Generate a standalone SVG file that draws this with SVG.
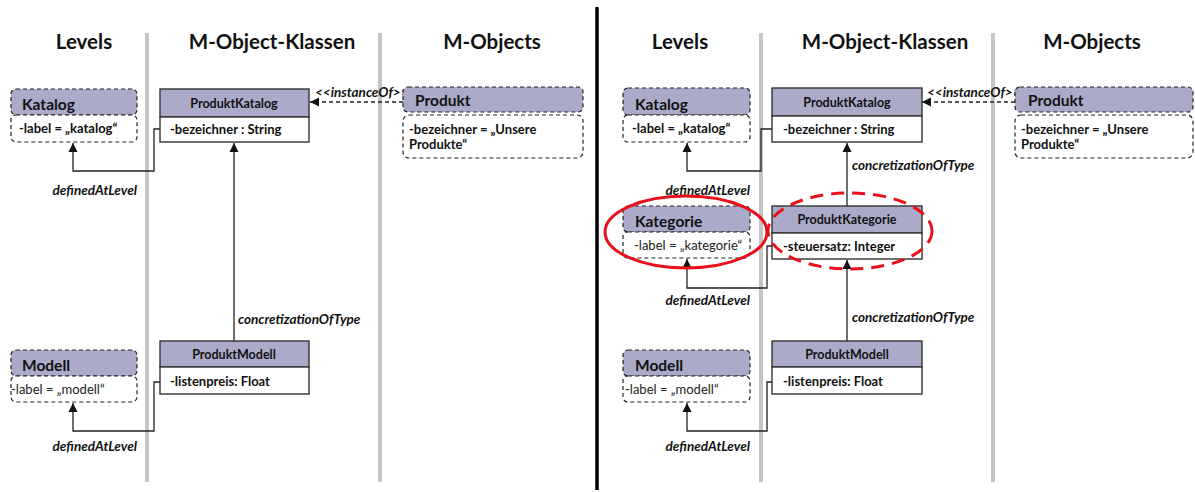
<svg xmlns="http://www.w3.org/2000/svg" width="1195" height="492" viewBox="0 0 1195 492">
<style>
.h{font-family:Lato,"Liberation Sans",sans-serif;font-weight:bold;font-size:20.5px;fill:#111;text-anchor:middle}
.sep{stroke:#C9C4C4;stroke-width:4}
.lh{fill:#ABABC9;stroke:#222;stroke-width:1.2;stroke-dasharray:4 3}
.lb{fill:#fff;stroke:#222;stroke-width:1.2;stroke-dasharray:4 3}
.ch{fill:#ABABC9;stroke:#333;stroke-width:1.4}
.cb{fill:#fff;stroke:#333;stroke-width:1.4}
.t1{font-family:Lato,"Liberation Sans",sans-serif;font-weight:bold;font-size:15.5px;fill:#111}
.t2{font-family:Lato,"Liberation Sans",sans-serif;font-weight:bold;font-size:13px;fill:#111}
.t3{font-family:Lato,"Liberation Sans",sans-serif;font-size:13px;fill:#222}
.tc{font-family:Lato,"Liberation Sans",sans-serif;font-weight:bold;font-size:12.5px;fill:#111;text-anchor:middle}
.lab{font-family:Lato,"Liberation Sans",sans-serif;font-weight:bold;font-style:italic;font-size:13.5px;fill:#111}
.ln{fill:none;stroke:#222;stroke-width:1.3}
.dl{fill:none;stroke:#222;stroke-width:1.3;stroke-dasharray:4 3}
</style>
<defs>
<marker id="ah" markerWidth="10" markerHeight="10" refX="9" refY="5" orient="auto" markerUnits="userSpaceOnUse">
<path d="M0,0.5 L9,5 L0,9.5 Z" fill="#111"/>
</marker>
</defs>
<rect width="1195" height="492" fill="#fff"/>
<g id="separators">
<line class="sep" x1="147" y1="33" x2="147" y2="482"/>
<line class="sep" x1="380" y1="33" x2="380" y2="482"/>
<line class="sep" x1="761" y1="33" x2="761" y2="482"/>
<line class="sep" x1="993" y1="33" x2="993" y2="482"/>
<line x1="597" y1="7" x2="597" y2="490" stroke="#000" stroke-width="3.5"/>
</g>
<g id="headings">
<text class="h" x="84" y="49">Levels</text>
<text class="h" x="272" y="49">M-Object-Klassen</text>
<text class="h" x="492" y="49">M-Objects</text>
<text class="h" x="680" y="49">Levels</text>
<text class="h" x="885" y="49">M-Object-Klassen</text>
<text class="h" x="1092" y="49">M-Objects</text>
</g>
<g id="connectors">
<path class="ln" d="M160,129 H154 V171 H73 V143" marker-end="url(#ah)"/>
<path class="ln" d="M160,382 H154 V431 H73 V403" marker-end="url(#ah)"/>
<path class="ln" d="M234,341 V143" marker-end="url(#ah)"/>
<path class="dl" d="M403,102 H310" marker-end="url(#ah)"/>
<path class="ln" d="M772,129 H761 V171 H687 V143" marker-end="url(#ah)"/>
<path class="ln" d="M772,246 H767 V288 H687 V259" marker-end="url(#ah)"/>
<path class="ln" d="M772,382 H767 V431 H687 V403" marker-end="url(#ah)"/>
<path class="ln" d="M847,206 V143" marker-end="url(#ah)"/>
<path class="ln" d="M847,341 V260" marker-end="url(#ah)"/>
<path class="dl" d="M1015,102 H922" marker-end="url(#ah)"/>
<text class="lab" x="137" y="195" text-anchor="end">definedAtLevel</text>
<text class="lab" x="137" y="451" text-anchor="end">definedAtLevel</text>
<text class="lab" x="238" y="324">concretizationOfType</text>
<text class="lab" x="315" y="97">&lt;&lt;instanceOf&gt;&gt;</text>
<text class="lab" x="750" y="195" text-anchor="end">definedAtLevel</text>
<text class="lab" x="750" y="305" text-anchor="end">definedAtLevel</text>
<text class="lab" x="750" y="451" text-anchor="end">definedAtLevel</text>
<text class="lab" x="852" y="170">concretizationOfType</text>
<text class="lab" x="852" y="322">concretizationOfType</text>
<text class="lab" x="927" y="97">&lt;&lt;instanceOf&gt;&gt;</text>
</g>
<g id="katalog-l">
<rect class="lh" x="11" y="89" width="126" height="26" rx="5"/>
<rect class="lb" x="11" y="115" width="126" height="27" rx="5"/>
<text class="t1" x="22" y="110">Katalog</text>
<text class="t2" x="19" y="133">-label = „katalog“</text>
</g>
<g id="produktkatalog-l">
<rect class="ch" x="160" y="89" width="149" height="28"/>
<rect class="cb" x="160" y="117" width="149" height="25"/>
<text class="tc" x="234" y="108">ProduktKatalog</text>
<text class="t2" x="170" y="134">-bezeichner : String</text>
</g>
<g id="produkt-l">
<rect class="lh" x="403" y="87" width="180" height="25" rx="5"/>
<rect class="lb" x="403" y="115" width="180" height="43" rx="6"/>
<text class="t1" x="415" y="106">Produkt</text>
<text class="t2" x="409" y="134">-bezeichner = „Unsere</text>
<text class="t2" x="409" y="149">Produkte“</text>
</g>
<g id="modell-l">
<rect class="lh" x="11" y="350" width="126" height="26" rx="5"/>
<rect class="lb" x="11" y="376" width="126" height="26" rx="5"/>
<text class="t1" x="22" y="371">Modell</text>
<text class="t3" x="11" y="394">-label = „modell“</text>
</g>
<g id="produktmodell-l">
<rect class="ch" x="160" y="341" width="149" height="26"/>
<rect class="cb" x="160" y="367" width="149" height="27"/>
<text class="tc" x="234" y="359">ProduktModell</text>
<text class="t2" x="170" y="386">-listenpreis: Float</text>
</g>
<g id="katalog-r">
<rect class="lh" x="623" y="88" width="127" height="27" rx="5"/>
<rect class="lb" x="623" y="115" width="127" height="27" rx="5"/>
<text class="t1" x="635" y="110">Katalog</text>
<text class="t2" x="632" y="133">-label = „katalog“</text>
</g>
<g id="produktkatalog-r">
<rect class="ch" x="772" y="88" width="150" height="28"/>
<rect class="cb" x="772" y="116" width="150" height="26"/>
<text class="tc" x="847" y="107">ProduktKatalog</text>
<text class="t2" x="783" y="134">-bezeichner : String</text>
</g>
<g id="produkt-r">
<rect class="lh" x="1015" y="87" width="178" height="25" rx="5"/>
<rect class="lb" x="1015" y="115" width="178" height="43" rx="6"/>
<text class="t1" x="1028" y="106">Produkt</text>
<text class="t2" x="1021" y="134">-bezeichner = „Unsere</text>
<text class="t2" x="1021" y="149">Produkte“</text>
</g>
<g id="kategorie-r">
<rect class="lh" x="623" y="206" width="127" height="26" rx="5"/>
<rect class="lb" x="623" y="232" width="127" height="26" rx="5"/>
<text class="t1" x="635" y="227">Kategorie</text>
<text class="t3" x="634" y="250">-label = „kategorie“</text>
</g>
<g id="produktkategorie-r">
<rect class="ch" x="772" y="206" width="150" height="27"/>
<rect class="cb" x="772" y="233" width="150" height="26"/>
<text class="tc" x="847" y="224">ProduktKategorie</text>
<text class="t2" x="783" y="251">-steuersatz: Integer</text>
</g>
<g id="modell-r">
<rect class="lh" x="623" y="350" width="127" height="26" rx="5"/>
<rect class="lb" x="623" y="376" width="127" height="26" rx="5"/>
<text class="t1" x="635" y="371">Modell</text>
<text class="t3" x="625" y="394">-label = „modell“</text>
</g>
<g id="produktmodell-r">
<rect class="ch" x="772" y="341" width="150" height="26"/>
<rect class="cb" x="772" y="367" width="150" height="27"/>
<text class="tc" x="847" y="359">ProduktModell</text>
<text class="t2" x="783" y="386">-listenpreis: Float</text>
</g>
<g id="highlights">
<ellipse cx="686" cy="232" rx="81" ry="36" fill="none" stroke="#E8101A" stroke-width="3"/>
<ellipse cx="850" cy="231" rx="82" ry="38" fill="none" stroke="#E8101A" stroke-width="3" stroke-dasharray="13 8"/>
</g>
</svg>
